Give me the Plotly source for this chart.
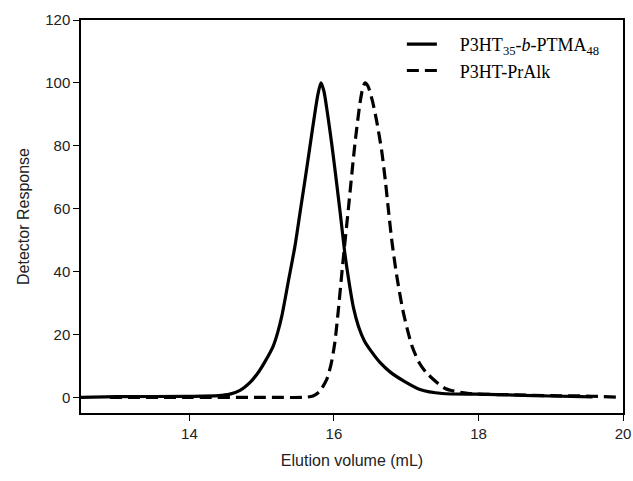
import plotly.graph_objects as go

# P3HT35-b-PTMA48 (solid)
solid_x = [12.5, 13.0, 14.0, 14.4, 14.56, 14.7, 14.85, 14.95, 15.05, 15.16, 15.22, 15.28, 15.37, 15.46,
           15.53, 15.60, 15.66, 15.74, 15.78, 15.82, 15.86, 15.91, 15.97, 16.03, 16.09, 16.15, 16.21,
           16.27, 16.34, 16.42, 16.52, 16.64, 16.78, 16.98, 17.19, 17.5, 18.0, 18.5, 19.0, 19.58]
solid_y = [0.0, 0.2, 0.3, 0.5, 1.0, 2.2, 5.0, 7.8, 11.5, 16.3, 20.5, 26, 37, 48,
           58.6, 69.2, 78.5, 91, 96.5, 100, 97.5, 90.4, 80.5, 69.5, 58, 46, 36.5,
           28.5, 22.5, 18, 14.5, 11, 8, 5, 2.5, 1.2, 1.0, 0.7, 0.4, 0.1]

# P3HT-PrAlk (dashed)
dash_x = [12.9, 14.0, 15.0, 15.6, 15.71, 15.80, 15.90, 15.96, 16.01, 16.06, 16.12, 16.20, 16.29, 16.36,
          16.40, 16.43, 16.47, 16.53, 16.59, 16.66, 16.71, 16.75, 16.80, 16.87, 16.96, 17.08, 17.18,
          17.28, 17.54, 17.8, 18.0, 18.5, 19.0, 19.5, 19.95]
dash_y = [0.0, 0.0, 0.0, 0.0, 0.4, 1.8, 5.7, 10.5, 17, 27.5, 42, 60, 80.5, 93.5,
          98.5, 100, 99, 94.5, 88, 78.5, 69.2, 60.5, 50, 38.5, 27, 16.3, 11,
          7.8, 2.8, 1.4, 1.0, 0.8, 0.5, 0.4, 0.0]

x_ticks = [14, 16, 18, 20]
y_ticks = [0, 20, 40, 60, 80, 100, 120]

fig = go.Figure()
fig.add_trace(go.Scatter(
    x=solid_x, y=solid_y, mode="lines",
    name="\u2002\u2002P3HT<sub>35</sub>-<i>b</i>-PTMA<sub>48</sub>",
    line=dict(color="black", width=3.2, shape="spline", smoothing=0.7),
))
fig.add_trace(go.Scatter(
    x=dash_x, y=dash_y, mode="lines",
    name="\u2002\u2002P3HT-PrAlk",
    line=dict(color="black", width=3.2, dash="12px,6px", shape="spline", smoothing=0.7),
))

axis_common = dict(
    showline=True, linecolor="black", linewidth=1.5, mirror=True,
    ticks="outside", ticklen=6, tickcolor="black", tickwidth=1,
    showgrid=False, zeroline=False, automargin=False,
    tickfont=dict(family="Liberation Sans, Arial", size=15, color="#222"),
)

fig.update_layout(
    width=633, height=481,
    margin=dict(l=81, r=10, t=20, b=68),
    plot_bgcolor="white", paper_bgcolor="white",
    xaxis=dict(range=[12.5, 20], tickvals=x_ticks,
               title=dict(text="Elution volume (mL)", standoff=14,
                          font=dict(family="Liberation Sans, Arial", size=16, color="#222")),
               **axis_common),
    yaxis=dict(range=[-5, 120], tickvals=y_ticks,
               title=dict(text="Detector Response", standoff=12,
                          font=dict(family="Liberation Sans, Arial", size=16, color="#222")),
               **axis_common),
    legend=dict(x=0.592, y=0.985, xanchor="left", yanchor="top",
                bgcolor="rgba(0,0,0,0)", tracegroupgap=0, itemwidth=30,
                font=dict(family="Liberation Serif, Times New Roman", size=18, color="black")),
    showlegend=True,
)

# remove the default 8px page margin so the figure fills the window exactly
fig.write_html("out.html",
               config={"displayModeBar": False},
               post_script="document.body.style.margin='0';document.body.style.overflow='hidden';")
